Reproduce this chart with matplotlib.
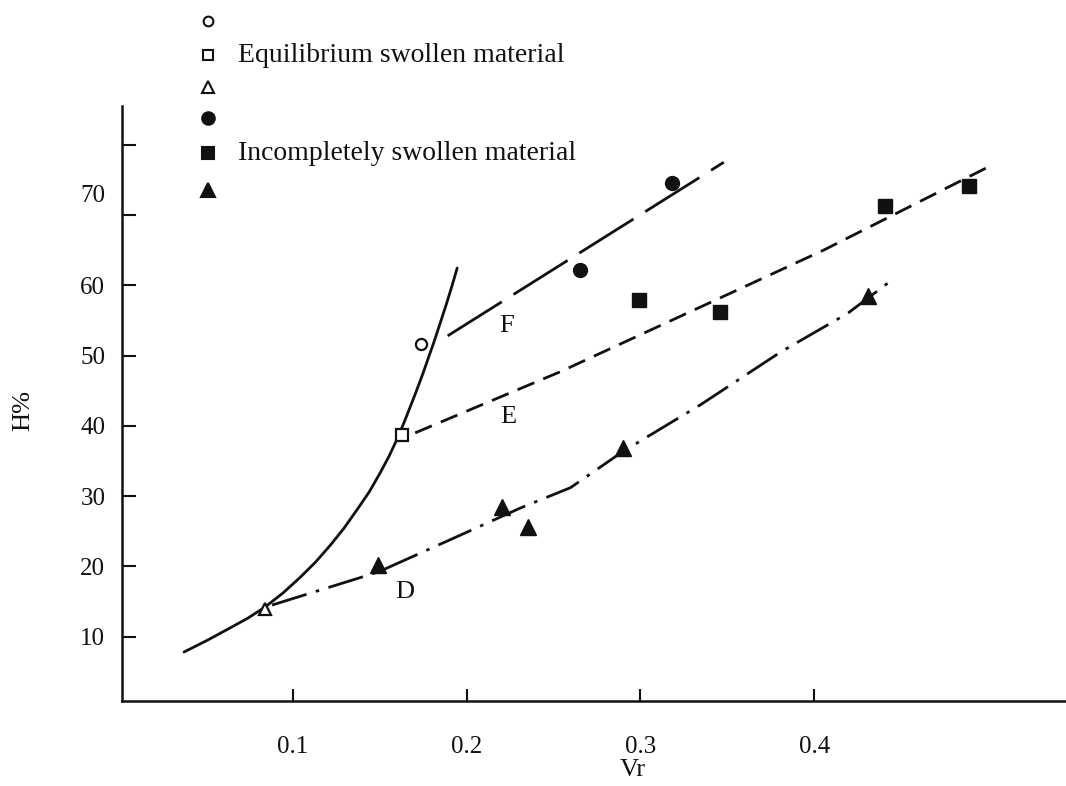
import matplotlib
matplotlib.use("Agg")
import matplotlib.pyplot as plt

plt.rcParams['font.family'] = ['Liberation Serif', 'DejaVu Serif']
plt.rcParams['lines.scale_dashes'] = False

# ---- data ----
open_circle_x = [0.1735]
open_circle_y = [51.7]
open_square_x = [0.1628]
open_square_y = [38.7]
open_tri_x = [0.084]
open_tri_y = [14.0]

filled_circle_x = [0.265, 0.318]
filled_circle_y = [62.2, 74.5]
filled_square_x = [0.299, 0.346, 0.441, 0.489]
filled_square_y = [57.9, 56.2, 71.3, 74.1]
filled_tri_x = [0.149, 0.2205, 0.235, 0.290, 0.431]
filled_tri_y = [20.2, 28.4, 25.6, 36.8, 58.5]

# solid boundary curve
curve_x = [0.0372, 0.0504, 0.0637, 0.0741, 0.0839, 0.0942, 0.1040, 0.1127, 0.1213,
           0.1294, 0.1369, 0.1438, 0.1501, 0.1553, 0.1599, 0.1640, 0.1674, 0.1709,
           0.1744, 0.1778, 0.1813, 0.1847, 0.1882, 0.1916, 0.1945]
curve_y = [7.82, 9.46, 11.24, 12.66, 14.22, 16.22, 18.42, 20.55, 22.97,
           25.46, 28.09, 30.58, 33.29, 35.70, 38.12, 40.54, 42.67, 44.89,
           47.20, 49.59, 52.06, 54.62, 57.27, 60.00, 62.45]

# line F (long dashes)
lineF_x = [0.189, 0.348]
lineF_y = [52.8, 77.5]
# line E (short dashes)
lineE_x = [0.1703, 0.2539, 0.4055, 0.5000]
lineE_y = [39.0, 47.7, 65.0, 76.8]
# line D (dash-dot)
lineD_x = [0.0879, 0.1490, 0.1905, 0.2308, 0.2597, 0.2896, 0.3346, 0.3807, 0.4193, 0.4424]
lineD_y = [14.5, 19.2, 23.8, 28.3, 31.2, 36.3, 43.0, 50.5, 56.0, 60.3]

curve_labels = ['F', 'E', 'D']
curve_label_x = [0.2228, 0.2239, 0.1645]
curve_label_y = [54.2, 41.3, 16.4]

x_ticks = [0.1, 0.2, 0.3, 0.4]
x_tick_labels = ['0.1', '0.2', '0.3', '0.4']
y_ticks = [10, 20, 30, 40, 50, 60, 70, 80]
y_tick_labels = ['10', '20', '30', '40', '50', '60', '', '']
y_extra_label_pos = [73]
y_extra_label_text = ['70']

legend_text = ['', 'Equilibrium swollen material', '', '', 'Incompletely swollen material', '']

# ---- figure ----
W, H = 1066, 786
fig = plt.figure(figsize=(W / 100, H / 100), dpi=100)
ax = fig.add_axes([122 / W, 1 - 701 / H, 1 - 122 / W, (701 - 106) / H])
ax.set_xlim(0.0015, 0.545)
ax.set_ylim(0.85, 85.5)

ink = '#111111'
lw = 2.0

ax.plot(curve_x, curve_y, color=ink, lw=lw, solid_capstyle='round', solid_joinstyle='round')
ax.plot(lineF_x, lineF_y, color=ink, lw=lw, dashes=(46, 10))
ax.plot(lineE_x, lineE_y, color=ink, lw=lw, dashes=(13, 7))
ax.plot(lineD_x, lineD_y, color=ink, lw=lw, dashes=(26, 7, 2.5, 7))

ms = 10
ax.plot(open_circle_x, open_circle_y, 'o', ms=8, mfc='white', mec=ink, mew=1.6, ls='none')
ax.plot(open_square_x, open_square_y, 's', ms=8, mfc='white', mec=ink, mew=1.6, ls='none')
ax.plot(open_tri_x, open_tri_y, '^', ms=9, mfc='white', mec=ink, mew=1.6, ls='none')
ax.plot(filled_circle_x, filled_circle_y, 'o', ms=ms, color=ink, ls='none')
ax.plot(filled_square_x, filled_square_y, 's', ms=ms, color=ink, ls='none')
ax.plot(filled_tri_x, filled_tri_y, '^', ms=ms + 1, color=ink, ls='none')

for t, lx, ly in zip(curve_labels, curve_label_x, curve_label_y):
    ax.text(lx, ly, t, fontsize=19, ha='center', va='center', color=ink)

# axes styling
for s in ['top', 'right']:
    ax.spines[s].set_visible(False)
for s in ['left', 'bottom']:
    ax.spines[s].set_linewidth(1.8)
    ax.spines[s].set_color(ink)

ax.set_xticks(x_ticks)
ax.set_xticklabels(x_tick_labels, fontsize=18)
ax.tick_params(axis='x', direction='in', length=9, width=1.5, pad=25, colors=ink)
ax.set_yticks(y_ticks)
ax.set_yticklabels(y_tick_labels, fontsize=18)
ax.tick_params(axis='y', which='major', direction='in', length=10, width=1.5, pad=12, colors=ink)
ax.set_yticks(y_extra_label_pos, minor=True)
ax.set_yticklabels(y_extra_label_text, minor=True, fontsize=18)
ax.tick_params(axis='y', which='minor', length=0, pad=12, colors=ink)

fig.text(633 / W, 1 - 770 / H, 'Vr', fontsize=19, ha='center', va='center', color=ink)
fig.text(23 / W, 1 - 410 / H, 'H%', fontsize=19, ha='center', va='center', rotation=90, color=ink)

# legend block (top left)
leg_rows_y = [21, 55, 87, 118, 153, 190]
leg_markers = [('o', 'white', 7), ('s', 'white', 7), ('^', 'white', 8),
               ('o', ink, 9), ('s', ink, 9), ('^', ink, 10)]
for (m, fc, size), ry, txt in zip(leg_markers, leg_rows_y, legend_text):
    fig.lines.append(plt.Line2D([208 / W], [1 - ry / H], marker=m, ms=size, mfc=fc,
                                mec=ink, mew=1.5, ls='none', transform=fig.transFigure))
    if txt:
        fig.text(238 / W, 1 - ry / H, txt, fontsize=20, ha='left', va='center', color=ink)

fig.savefig('out.png', dpi=100, facecolor='white')
